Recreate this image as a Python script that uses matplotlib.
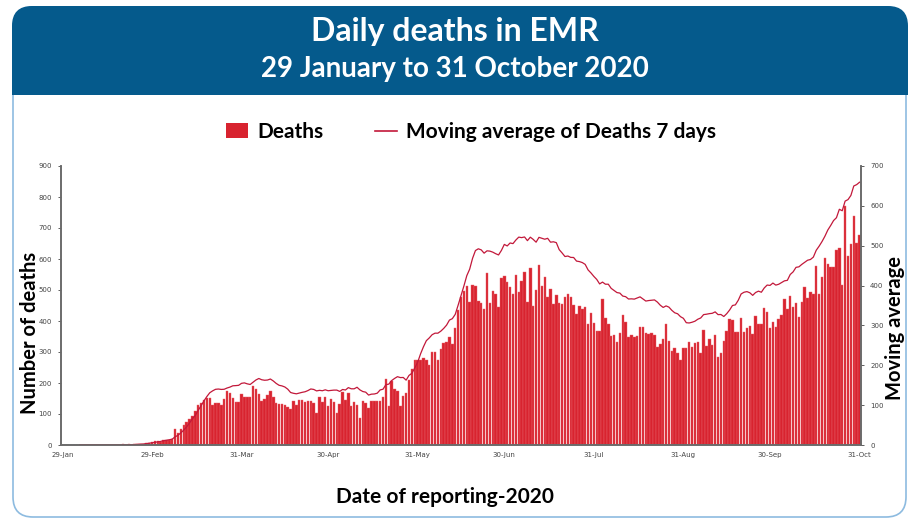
import numpy as np
import pandas as pd
import matplotlib
matplotlib.use("Agg")
import matplotlib.pyplot as plt
from matplotlib.patches import FancyBboxPatch, Rectangle, Patch
from matplotlib.lines import Line2D

# -------------------------
# DATA
# -------------------------
START_DATE = "2020-01-29"
END_DATE = "2020-10-31"

deaths_jan_feb = [0] * 21 + [2, 0, 2, 1, 3, 4, 3, 4, 7, 8, 9, 12, 12, 11, 15, 16, 17, 20]
deaths_mar_apr = [52, 40, 53, 63, 74, 85, 94, 110, 129, 137,
                  145, 151, 151, 128, 137, 134, 130, 148, 173, 167,
                  151, 140, 139, 165, 156, 156, 156, 190, 180, 165,
                  143, 147, 160, 174, 156, 137, 132, 132, 128, 122,
                  115, 142, 128, 145]
deaths_apr_jun = [145, 138, 143, 143, 134, 102, 155, 138, 154, 127,
                  148, 140, 102, 132, 172, 145, 169, 127, 140, 129,
                  86, 143, 134, 118, 143, 143, 143, 143, 156, 214,
                  127, 206, 180, 174, 127, 158, 167, 210, 244, 274,
                  274, 274, 282, 274, 258, 301, 301, 274, 309, 330,
                  332, 347, 326, 376, 435]
deaths_jun_aug = [478, 498, 513, 462, 516, 513, 466, 459, 440, 554,
                  457, 498, 486, 444, 539, 545, 527, 509, 487, 549,
                  495, 530, 557, 462, 570, 448, 500, 580, 513, 541,
                  478, 502, 455, 485, 457, 455, 478, 487, 478, 453,
                  422, 448, 438, 446, 390, 425, 392, 369, 369, 470,
                  409, 390, 352, 354, 333, 360, 418, 398, 349, 355,
                  349, 353, 380, 380, 362, 358]
deaths_aug_oct = [360, 355, 315, 325, 341, 389, 336, 304, 312, 298,
                  274, 312, 312, 331, 317, 330, 333, 296, 371, 319,
                  341, 323, 355, 285, 298, 336, 368, 405, 403, 366,
                  366, 409, 366, 379, 385, 357, 416, 390, 390, 441,
                  430, 379, 398, 380, 405, 419, 472, 439, 482, 444,
                  459, 414, 462, 509, 475, 495, 486, 579, 486, 543,
                  602, 584, 575, 573, 629, 634, 517, 771, 611, 648,
                  739, 653, 676]

tick_dates = ["2020-01-29", "2020-02-29", "2020-03-31", "2020-04-30", "2020-05-31",
              "2020-06-30", "2020-07-31", "2020-08-31", "2020-09-30", "2020-10-31"]
tick_labels = ["29-Jan", "29-Feb", "31-Mar", "30-Apr", "31-May",
               "30-Jun", "31-Jul", "31-Aug", "30-Sep", "31-Oct"]

left_ticks = list(range(0, 901, 100))
right_ticks = list(range(0, 701, 100))

# -------------------------
# styles
# -------------------------
FONT = "Lato"
HEADER_BLUE = "#055A8C"
BORDER_BLUE = "#8DBBE0"
BAR_RED = "#D8232F"
LINE_RED = "#C2183A"
AXIS_GREY = "#6b6b6b"

dates = pd.date_range(START_DATE, END_DATE, freq="D")
df = pd.DataFrame({"date": dates,
                   "deaths": deaths_jan_feb + deaths_mar_apr + deaths_apr_jun
                   + deaths_jun_aug + deaths_aug_oct})
# the red line is the 7-day moving average of the deaths series
df["ma7"] = df["deaths"].rolling(7).mean()

W, H = 910, 521
fig = plt.figure(figsize=(W / 100, H / 100), dpi=100)

# background card + header drawn in pixel coordinates
bg = fig.add_axes([0, 0, 1, 1], zorder=0)
bg.set_xlim(0, W)
bg.set_ylim(H, 0)
bg.axis("off")
card = FancyBboxPatch((13, 7), 893, 510, boxstyle="round,pad=0,rounding_size=20",
                      facecolor="white", edgecolor=BORDER_BLUE, linewidth=1.2)
bg.add_patch(card)
header = FancyBboxPatch((12, 6), 896, 89, boxstyle="round,pad=0,rounding_size=20",
                        facecolor=HEADER_BLUE, edgecolor="none")
bg.add_patch(header)
bg.add_patch(Rectangle((12, 60), 896, 35, facecolor=HEADER_BLUE, edgecolor="none"))
bg.text(455, 31, "Daily deaths in EMR", color="white", fontsize=23, fontweight="bold",
        family=FONT, ha="center", va="center")
bg.text(455, 69, "29 January to 31 October 2020", color="white", fontsize=20,
        fontweight="bold", family=FONT, ha="center", va="center")

# main chart
ax = fig.add_axes([61 / W, 1 - 445 / H, 800 / W, 279 / H], zorder=2)
ax.patch.set_alpha(0)
ax.bar(df["date"], df["deaths"], width=0.85, color=BAR_RED,
       edgecolor="#E8646C", linewidth=0.3)
ax.set_ylim(0, 900)
ax.set_yticks(left_ticks)
ax.set_xlim(df["date"].iloc[0] - pd.Timedelta(hours=12),
            df["date"].iloc[-1] + pd.Timedelta(hours=12))
ax.set_xticks(pd.to_datetime(tick_dates))
ax.set_xticklabels(tick_labels)

ax2 = ax.twinx()
ax2.plot(df["date"], df["ma7"], color=LINE_RED, linewidth=0.9)
ax2.set_ylim(0, 700)
ax2.set_yticks(right_ticks)

for a in (ax, ax2):
    a.spines["top"].set_visible(False)
    for s in ("left", "right", "bottom"):
        a.spines[s].set_color(AXIS_GREY)
        a.spines[s].set_linewidth(1.2)
    a.tick_params(axis="y", labelsize=5, colors="#444444", length=2.5, width=0.6,
                  pad=4)
    a.tick_params(axis="x", labelsize=5, colors="#444444", length=0, pad=5)

# legend
handles = [Patch(facecolor=BAR_RED, edgecolor="none"),
           Line2D([0], [0], color=LINE_RED, linewidth=1.2)]
fig.legend(handles, ["Deaths", "Moving average of Deaths 7 days"],
           loc="center", bbox_to_anchor=(471 / W, 1 - 132 / H), ncol=2,
           frameon=False, prop={"family": FONT, "weight": "bold", "size": 15},
           handlelength=1.05, handleheight=0.75, columnspacing=2.5, handletextpad=0.45)

fig.text(30 / W, 1 - 333 / H, "Number of deaths", rotation=90, ha="center", va="center",
         fontsize=14.5, fontweight="bold", family=FONT)
fig.text(895 / W, 1 - 328 / H, "Moving average", rotation=90, ha="center", va="center",
         fontsize=14.5, fontweight="bold", family=FONT)
fig.text(445 / W, 1 - 497 / H, "Date of reporting-2020", ha="center", va="center",
         fontsize=15, fontweight="bold", family=FONT)

fig.savefig("out.png", dpi=100)
